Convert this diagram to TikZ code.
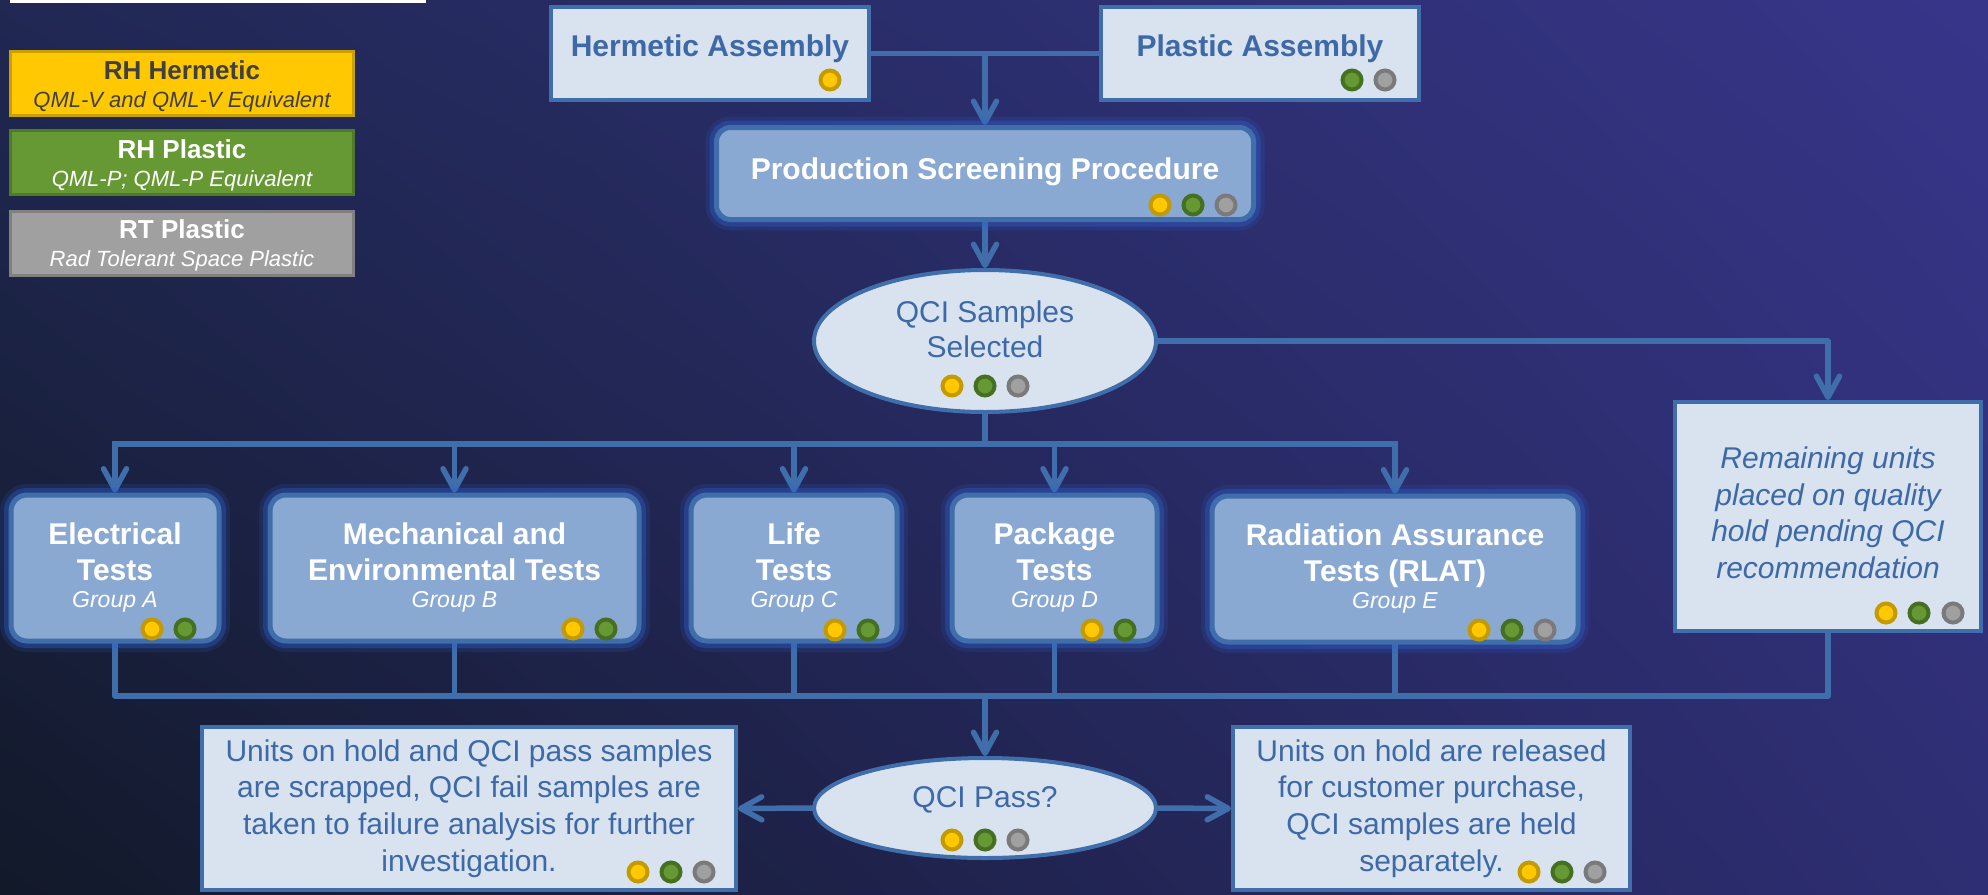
\documentclass[tikz,border=0pt]{standalone}
\usepackage{fontspec}
\setmainfont{Liberation Sans}
\usetikzlibrary{arrows.meta, shapes.geometric, shadings}
\pgfdeclarelayer{back}
\pgfdeclarelayer{lines}
\pgfsetlayers{back,lines,main}

\definecolor{lnblue}{HTML}{3F6EAB}
\definecolor{lightfill}{HTML}{D9E2EF}
\definecolor{txtblue}{HTML}{3D69A6}
\definecolor{testfill}{HTML}{8AA9D2}
\definecolor{glowc}{HTML}{2E62D0}
\definecolor{yfill}{HTML}{FFC800}
\definecolor{yring}{HTML}{C39A00}
\definecolor{gfill}{HTML}{669933}
\definecolor{gring}{HTML}{467021}
\definecolor{sfill}{HTML}{A0A0A0}
\definecolor{sring}{HTML}{7A7A7A}
\definecolor{legtext}{HTML}{404040}
\definecolor{bgul}{HTML}{202853}
\definecolor{bgur}{HTML}{37358A}
\definecolor{bgll}{HTML}{121929}
\definecolor{bglr}{HTML}{2E2E74}
\definecolor{legy}{HTML}{FFC800}
\definecolor{legyb}{HTML}{C8A000}
\definecolor{legg}{HTML}{669933}
\definecolor{leggb}{HTML}{4E7A2A}
\definecolor{legs}{HTML}{A0A0A0}
\definecolor{legsb}{HTML}{808080}

\tikzset{
  conn/.style={draw=lnblue, line width=5.5pt, line join=round, line cap=rect},
  arr/.style={conn, -{Straight Barb[length=21pt, width=23pt, round]}},
  lightbox/.style={rectangle, draw=lnblue, line width=4pt, fill=lightfill, inner sep=0pt,
    text=txtblue, align=center},
  glowbox/.style={rectangle, rounded corners=16pt, draw=lnblue, line width=5pt, fill=testfill,
    inner sep=0pt, text=white, align=center,
    preaction={draw=glowc, line width=22pt, draw opacity=0.16},
    preaction={draw=glowc, line width=14pt, draw opacity=0.35}},
  testbox/.style={glowbox, minimum height=146pt, font=\fontsize{30}{36}\selectfont\bfseries},
  ellip/.style={ellipse, draw=lnblue, line width=4pt, fill=lightfill, inner sep=0pt},
  etxt/.style={text=txtblue, align=center, inner sep=0pt, font=\fontsize{30}{35}\selectfont},
  legbox/.style={rectangle, line width=3pt, minimum width=343pt, minimum height=64pt,
    inner sep=0pt, align=center, font=\fontsize{24}{28}\selectfont},
  dot/.style={circle, minimum size=19pt, inner sep=0pt, line width=4pt},
  ydot/.style={dot, fill=yfill, draw=yring},
  gdot/.style={dot, fill=gfill, draw=gring},
  sdot/.style={dot, fill=sfill, draw=sring}
}
\newcommand{\grp}[1]{{\fontsize{23}{30}\selectfont\mdseries\itshape #1}}

\begin{document}
\begin{tikzpicture}[x=1pt, y=-1pt]
\useasboundingbox (0,0) rectangle (1988,894);
\begin{pgfonlayer}{back}
  \shade[upper left=bgul, upper right=bgur, lower left=bgll, lower right=bglr]
    (0,0) rectangle (1988,894);
  \fill[white] (10,0) rectangle (426,3);
\end{pgfonlayer}

% legend
\node[legbox, fill=legy, draw=legyb, text=legtext] (leg1) at (182,83.5)
  {\rule{0pt}{24pt}{\fontsize{26}{28}\selectfont\bfseries RH Hermetic}\\{\fontsize{22}{28}\selectfont\itshape QML-V and QML-V Equivalent}};
\node[legbox, fill=legg, draw=leggb, text=white] (leg2) at (182,162.5)
  {\rule{0pt}{24pt}{\fontsize{26}{28}\selectfont\bfseries RH Plastic}\\{\fontsize{22}{28}\selectfont\itshape QML-P; QML-P Equivalent}};
\node[legbox, fill=legs, draw=legsb, text=white] (leg3) at (182,243)
  {\rule{0pt}{24pt}{\fontsize{26}{28}\selectfont\bfseries RT Plastic}\\{\fontsize{22}{28}\selectfont\itshape Rad Tolerant Space Plastic}};

% top boxes
\node[lightbox, minimum width=318pt, minimum height=93pt, text depth=16pt,
  font=\fontsize{30}{36}\selectfont\bfseries] (herm) at (710,53.5) {Hermetic Assembly};
\node[lightbox, minimum width=318pt, minimum height=93pt, text depth=16pt,
  font=\fontsize{30}{36}\selectfont\bfseries] (plas) at (1260,53.5) {Plastic Assembly};
\node[glowbox, minimum width=537pt, minimum height=92pt, rounded corners=14pt, text depth=10pt,
  font=\fontsize{30}{36}\selectfont\bfseries] (prod) at (985,173.5) {Production Screening Procedure};

% QCI samples
\node[ellip, minimum width=342pt, minimum height=142pt] (qcis) at (985,341) {};
\node[etxt] (qcist) at (985,329.5) {QCI Samples\\Selected};

% tests
\node[testbox, minimum width=208pt] (elec) at (115,568)
  {Electrical\\Tests\\[-9pt]\grp{Group A}};
\node[testbox, minimum width=369pt] (mech) at (454.5,568)
  {Mechanical and\\Environmental Tests\\[-9pt]\grp{Group B}};
\node[testbox, minimum width=206pt] (life) at (794,568)
  {Life\\Tests\\[-9pt]\grp{Group C}};
\node[testbox, minimum width=205pt] (pack) at (1054.5,568)
  {Package\\Tests\\[-9pt]\grp{Group D}};
\node[testbox, minimum width=366pt] (rad) at (1395,569)
  {Radiation Assurance\\Tests (RLAT)\\[-9pt]\grp{Group E}};

% remaining units
\node[lightbox, minimum width=306pt, minimum height=229pt, font=\fontsize{30}{36.7}\selectfont\itshape]
  (rem) at (1828,516.5) {Remaining units\\placed on quality\\hold pending QCI\\recommendation\rule[-8pt]{0pt}{8pt}};

% QCI pass
\node[ellip, minimum width=342pt, minimum height=100pt] (qcip) at (985,808) {};
\node[etxt] (qcipt) at (985,800) {QCI Pass?};

% outcome boxes
\node[lightbox, minimum width=534pt, minimum height=163pt, font=\fontsize{30}{36.7}\selectfont]
  (fail) at (469,808.5) {Units on hold and QCI pass samples\\are scrapped, QCI fail samples are\\taken to failure analysis for further\\investigation.};
\node[lightbox, minimum width=397pt, minimum height=163pt, font=\fontsize{30}{36.7}\selectfont]
  (pass) at (1431.5,808.5) {Units on hold are released\\for customer purchase,\\QCI samples are held\\separately.};

% dots
\node[ydot] (hermy) at (830,80) {};
\node[gdot] (plasg) at (1352,80) {};
\node[sdot] (plass) at (1385,80) {};
\node[ydot] (prody) at (1160,205) {};
\node[gdot] (prodg) at (1193,205) {};
\node[sdot] (prods) at (1226,205) {};
\node[ydot] (qcisy) at (952,386) {};
\node[gdot] (qcisg) at (985,386) {};
\node[sdot] (qciss) at (1018,386) {};
\node[ydot] (elecy) at (152,629) {};
\node[gdot] (elecg) at (185,629) {};
\node[ydot] (mechy) at (573,629) {};
\node[gdot] (mechg) at (606,629) {};
\node[ydot] (lifey) at (835,630) {};
\node[gdot] (lifeg) at (868,630) {};
\node[ydot] (packy) at (1092,630) {};
\node[gdot] (packg) at (1125,630) {};
\node[ydot] (rady) at (1479,630) {};
\node[gdot] (radg) at (1512,630) {};
\node[sdot] (rads) at (1545,630) {};
\node[ydot] (remy) at (1886,613) {};
\node[gdot] (remg) at (1919,613) {};
\node[sdot] (rems) at (1953,613) {};
\node[ydot] (qcipy) at (952,840) {};
\node[gdot] (qcipg) at (985,840) {};
\node[sdot] (qcips) at (1018,840) {};
\node[ydot] (faily) at (638,872) {};
\node[gdot] (failg) at (671,872) {};
\node[sdot] (fails) at (704,872) {};
\node[ydot] (passy) at (1529,872) {};
\node[gdot] (passg) at (1562,872) {};
\node[sdot] (passs) at (1595,872) {};

% connectors
\coordinate (jtop) at (herm.east -| prod.north);
\coordinate (jmid) at (985,444);
\coordinate (jbot) at (985,696);
\begin{pgfonlayer}{lines}
  \draw[conn] (herm.east) -- (plas.west);
  \draw[arr] (jtop) -- (prod.north);
  \draw[arr] (prod.south) -- (qcis.north);
  \draw[arr] (qcis.east) -| (rem.north);
  \draw[conn] (qcis.south) -- (jmid);
  \draw[conn] (elec.north |- jmid) -- (rad.north |- jmid);
  \foreach \n in {elec,mech,life,pack,rad} \draw[arr] (\n.north |- jmid) -- (\n.north);
  \draw[conn] (elec.south) -- (elec.south |- jbot) -- (rem.south |- jbot) -- (rem.south);
  \foreach \n in {mech,life,pack,rad} \draw[conn] (\n.south) -- (\n.south |- jbot);
  \draw[arr] (jbot) -- (qcip.north);
  \draw[arr] (qcip.west) -- (fail.east);
  \draw[arr] (qcip.east) -- (pass.west);
\end{pgfonlayer}
\end{tikzpicture}
\end{document}
